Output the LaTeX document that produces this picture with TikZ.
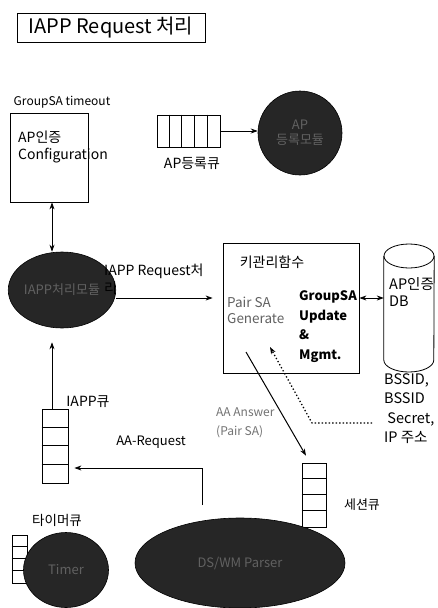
\documentclass[tikz,border=0pt]{standalone}
\usepackage{fontspec}
\setmainfont{Noto Sans CJK KR}
\usetikzlibrary{shapes.geometric,arrows.meta,calc}
\begin{document}
\begin{tikzpicture}[x=1pt,y=-1pt,
  box/.style={draw,line width=0.8pt,inner sep=0pt},
  blob/.style={ellipse,fill=black!85,draw=black,line width=0.6pt,text=black!62,align=center,inner sep=0pt,font=\fontsize{13}{15}\selectfont},
  arr/.style={-{Stealth[length=7pt,width=5pt]},line width=0.8pt},
  darr/.style={{Stealth[length=7pt,width=5pt]}-{Stealth[length=7pt,width=5pt]},line width=0.8pt},
  dotarr/.style={-{Stealth[length=7pt,width=5pt]},line width=1.3pt,dash pattern=on 1.3pt off 2.2pt},
  lbl/.style={font=\fontsize{13}{15}\selectfont,inner sep=0pt},
  divider/.style={line width=0.7pt},
  cyl/.style={line width=0.8pt}]
\useasboundingbox (0,0) rectangle (438,608);
\fill[white] (0,0) rectangle (438,608);

% title
\node[box,minimum width=188pt,minimum height=29pt,font=\fontsize{20}{22}\selectfont] (title) at (111,27.5) {IAPP Request 처리};

% configuration box
\node[lbl,font=\fontsize{12}{14}\selectfont] (gto) at (62,102) {GroupSA timeout};
\node[box,minimum width=78pt,minimum height=89pt] (cfg) at (49,157.5) {};
\node[lbl,anchor=west,align=left,font=\fontsize{14}{17}\selectfont] (cfgt) at (18,146.5) {AP인증\\Configuration};

% AP registration queue and module
\node[box,minimum width=63pt,minimum height=32pt] (apq) at (188.5,131) {};
\foreach \i in {1,...,4} \draw[divider] ($(apq.north west)+(12.6*\i,0)$) -- ($(apq.south west)+(12.6*\i,0)$);
\node[lbl,font=\fontsize{14}{16}\selectfont] (apql) at (192,163) {AP등록큐};
\node[blob,minimum width=84pt,minimum height=84pt] (apm) at (300,133) {AP\\등록모듈};
\draw[arr] (apq.east) -- (apq.east -| apm.west);

% IAPP processing module
\node[blob,minimum width=84pt,minimum height=76pt] (iapp) at (62,290) {IAPP처리모듈};
\draw[darr] ($(cfg.south)+(3,0)$) coordinate (c1) -- (c1 |- iapp.north);

% key management box
\node[box,minimum width=136pt,minimum height=130pt] (key) at (291,308) {};
\node[lbl,font=\fontsize{14}{16}\selectfont] (keyt) at (272,262) {키관리함수};
\node[lbl,anchor=west,align=left,text=black!62,font=\fontsize{13.5}{16}\selectfont] (pair) at (227,310) {Pair SA\\Generate};
\node[lbl,anchor=west,align=left,font=\bfseries\fontsize{13}{19.5}\selectfont] (gsa) at (299,326.5) {GroupSA\\Update\\\&\\Mgmt.};

% DB cylinder
\node[minimum width=50pt,minimum height=130pt,inner sep=0pt] (db) at (409,308) {};
\draw[cyl] (db.west |- 0,256) -- (db.west |- 0,360) arc[start angle=180,end angle=360,x radius=25,y radius=-12] -- (db.east |- 0,256);
\draw[cyl] (409,256) ellipse[x radius=25,y radius=12];
\node[lbl,anchor=west,align=left,font=\fontsize{14.5}{17}\selectfont] (dbt) at (389,292) {AP인증\\DB};
\draw[darr] ($(key.east)+(0,-10)$) coordinate (c2) -- (c2 -| db.west);

% IAPP request arrow
\draw[arr,shorten >=10pt] ($(iapp.east)+(0,8)$) coordinate (c3) -- (c3 -| key.west);
\node[lbl,anchor=north west,align=left,font=\fontsize{14}{18}\selectfont] (irl) at (104,264) {IAPP Request처\\리};

% IAPP queue
\node[box,minimum width=26pt,minimum height=74pt] (iq) at (55,446) {};
\foreach \i in {1,2,3} \draw[divider] ($(iq.north west)+(0,18.5*\i)$) -- ($(iq.north east)+(0,18.5*\i)$);
\node[lbl,font=\fontsize{14}{16}\selectfont] (iql) at (88,402) {IAPP큐};
\draw[arr,shorten >=14pt] ($(iq.north)+(-3,0)$) coordinate (c4) -- (c4 |- iapp.south);

% AA-Request
\coordinate (aas) at (202,505);
\draw[arr,shorten >=6pt] (aas) |- ($(iq.east)+(0,22)$);
\node[lbl,font=\fontsize{13}{15}\selectfont] (aarl) at (151,442) {AA-Request};

% session queue
\node[box,minimum width=24pt,minimum height=64pt] (sq) at (314,495) {};
\foreach \i in {1,2,3} \draw[divider] ($(sq.north west)+(0,16*\i)$) -- ($(sq.north east)+(0,16*\i)$);
\node[lbl] (sql) at (362,505) {세션큐};

% AA Answer
\coordinate (aa0) at (246,352);
\draw[arr,line width=1pt,shorten >=8pt] (aa0) -- ($(sq.north)+(-4,0)$);
\node[lbl,anchor=west,align=left,text=black!55,font=\fontsize{12}{19}\selectfont] (aal) at (216,422.5) {AA Answer\\(Pair SA)};

% dotted info line
\coordinate (dt0) at (372,423);
\coordinate (dt1) at (312,423);
\coordinate (dt2) at (270,347);
\draw[dotarr] (dt0) -- (dt1) -- (dt2);
\node[lbl,anchor=north west,align=left,font=\fontsize{14.5}{19.5}\selectfont] (bss) at (384,373) {BSSID,\\BSSID\\\ Secret,\\IP 주소};

% timer queue and timer module
\node[box,minimum width=15pt,minimum height=48pt] (tq) at (19.5,559) {};
\foreach \i in {1,2,3} \draw[divider] ($(tq.north west)+(0,12*\i)$) -- ($(tq.north east)+(0,12*\i)$);
\node[lbl,font=\fontsize{13.5}{15}\selectfont] (tql) at (57,520) {타이머큐};
\node[blob,minimum width=85pt,minimum height=75pt] (timer) at (66,570) {Timer};

% big ellipse
\node[blob,minimum width=210pt,minimum height=90pt] (dsm) at (240,563) {DS/WM Parser};
\end{tikzpicture}
\end{document}
